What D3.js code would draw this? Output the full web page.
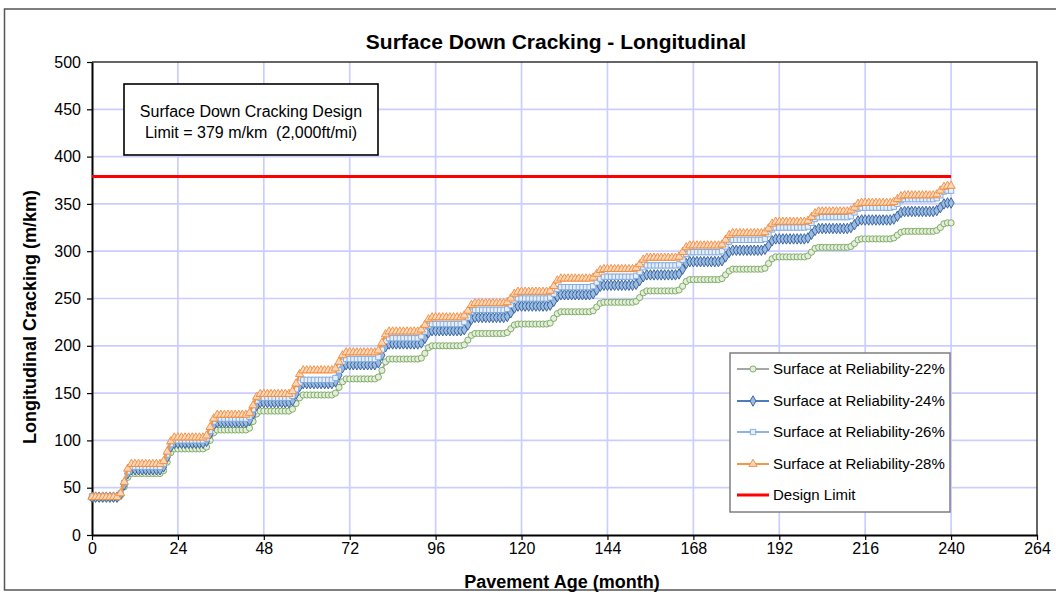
<!DOCTYPE html>
<html>
<head>
<meta charset="utf-8">
<script src="https://cdn.jsdelivr.net/npm/d3@7"></script>
<style>
  body { margin: 0; background: #fff; }
  svg { display: block; }
  text { font-family: "Liberation Sans", Arial, sans-serif; fill: #000; white-space: pre; }
</style>
</head>
<body>
<svg id="chart" width="1056" height="595"></svg>
<script>
// Pavement age in months (monthly output, 0..240)
const months = d3.range(0, 241);

// Longitudinal cracking (m/km), one row per year of service, plus the final month
const rel22 = [
  39,39,39,39,39,39,39,39,42,51,61,65,
  65,65,65,65,65,65,65,65,68,77,87,91,
  91,91,91,91,91,91,91,91,93,100,108,111,
  111,111,111,111,111,111,111,111,113,120,128,131,
  131,131,131,131,131,131,131,131,133,139,145,148,
  148,148,148,148,148,148,148,148,150,156,162,165,
  165,165,165,165,165,165,165,165,167,174,183,186,
  186,186,186,186,186,186,186,186,187,192,198,200,
  200,200,200,200,200,200,200,200,201,206,211,213,
  213,213,213,213,213,213,213,213,214,218,222,223,
  223,223,223,223,223,223,223,223,224,229,234,236,
  236,236,236,236,236,236,236,236,237,241,245,246,
  246,246,246,246,246,246,246,246,247,251,256,258,
  258,258,258,258,258,258,258,258,259,263,268,270,
  270,270,270,270,270,270,270,270,271,275,279,281,
  281,281,281,281,281,281,281,281,282,287,292,294,
  294,294,294,294,294,294,294,294,295,299,303,304,
  304,304,304,304,304,304,304,304,305,308,312,313,
  313,313,313,313,313,313,313,313,314,317,320,321,
  321,321,321,321,321,321,321,321,322,325,329,330,
  330
];
const rel24 = [
  40,40,40,40,40,40,40,40,43,53,65,69,
  69,69,69,69,69,69,69,69,72,82,93,97,
  97,97,97,97,97,97,97,97,99,107,116,119,
  119,119,119,119,119,119,119,119,121,128,137,140,
  140,140,140,140,140,140,140,140,142,149,157,160,
  160,160,160,160,160,160,160,160,162,169,177,180,
  180,180,180,180,180,180,180,180,182,190,199,202,
  202,202,202,202,202,202,202,202,203,208,214,216,
  216,216,216,216,216,216,216,216,217,222,228,230,
  230,230,230,230,230,230,230,230,231,235,240,242,
  242,242,242,242,242,242,242,242,243,247,252,254,
  254,254,254,254,254,254,254,254,255,259,263,264,
  264,264,264,264,264,264,264,264,265,269,273,275,
  275,275,275,275,275,275,275,275,276,281,287,289,
  289,289,289,289,289,289,289,289,290,294,299,301,
  301,301,301,301,301,301,301,301,302,306,311,313,
  313,313,313,313,313,313,313,313,314,318,322,324,
  324,324,324,324,324,324,324,324,325,328,332,333,
  333,333,333,333,333,333,333,333,334,337,341,342,
  342,342,342,342,342,342,342,342,343,346,350,351,
  351
];
const rel26 = [
  41,41,41,41,41,41,41,41,44,55,67,72,
  72,72,72,72,72,72,72,72,75,85,96,100,
  100,100,100,100,100,100,100,100,102,110,120,123,
  123,123,123,123,123,123,123,123,125,133,142,145,
  145,145,145,145,145,145,145,145,147,154,161,164,
  164,164,164,164,164,164,164,164,166,174,183,186,
  186,186,186,186,186,186,186,186,188,196,205,208,
  208,208,208,208,208,208,208,208,210,215,221,223,
  223,223,223,223,223,223,223,223,225,230,236,238,
  238,238,238,238,238,238,238,238,239,243,248,250,
  250,250,250,250,250,250,250,250,251,255,260,262,
  262,262,262,262,262,262,262,262,263,267,271,273,
  273,273,273,273,273,273,273,273,274,278,283,285,
  285,285,285,285,285,285,285,285,286,291,297,299,
  299,299,299,299,299,299,299,299,300,305,310,312,
  312,312,312,312,312,312,312,312,313,318,323,325,
  325,325,325,325,325,325,325,325,326,330,334,336,
  336,336,336,336,336,336,336,336,337,341,345,346,
  346,346,346,346,346,346,346,346,347,350,354,355,
  355,355,355,355,355,355,355,355,356,359,363,364,
  364
];
const rel28 = [
  40,40,40,40,40,40,40,40,44,56,70,75,
  75,75,75,75,75,75,75,75,78,88,99,103,
  103,103,103,103,103,103,103,103,105,114,123,127,
  127,127,127,127,127,127,127,127,129,137,146,149,
  149,149,149,149,149,149,149,149,152,160,170,174,
  174,174,174,174,174,174,174,174,176,183,190,193,
  193,193,193,193,193,193,193,193,195,203,212,215,
  215,215,215,215,215,215,215,215,217,222,228,230,
  230,230,230,230,230,230,230,230,232,237,243,245,
  245,245,245,245,245,245,245,245,246,250,255,257,
  257,257,257,257,257,257,257,257,258,263,269,271,
  271,271,271,271,271,271,271,271,272,276,280,281,
  281,281,281,281,281,281,281,281,282,286,291,293,
  293,293,293,293,293,293,293,293,294,299,304,306,
  306,306,306,306,306,306,306,306,307,312,317,319,
  319,319,319,319,319,319,319,319,320,324,329,331,
  331,331,331,331,331,331,331,331,332,336,340,342,
  342,342,342,342,342,342,342,342,343,346,350,351,
  351,351,351,351,351,351,351,351,352,355,358,359,
  359,359,359,359,359,359,359,359,360,364,368,369,
  369
];

const designLimit = 379;
const limitSpan = [0, 240];

const xTicks = [0, 24, 48, 72, 96, 120, 144, 168, 192, 216, 240, 264];
const yTicks = [0, 50, 100, 150, 200, 250, 300, 350, 400, 450, 500];

const seriesNames = [
  "Surface at Reliability-22%",
  "Surface at Reliability-24%",
  "Surface at Reliability-26%",
  "Surface at Reliability-28%"
];
const limitName = "Design Limit";
const noteLines = ["Surface Down Cracking Design", "Limit = 379 m/km  (2,000ft/mi)"];

const svg = d3.select("#chart");
const plot = { left: 92, right: 1037, top: 62, bottom: 535 };

const x = d3.scaleLinear().domain([0, 264]).range([plot.left, plot.right]);
const y = d3.scaleLinear().domain([0, 500]).range([plot.bottom, plot.top]);

// chart area frame
svg.append("rect")
  .attr("x", 4.5).attr("y", 9).attr("width", 1070).attr("height", 581)
  .attr("fill", "#fff").attr("stroke", "#555").attr("stroke-width", 1.5);

// title
svg.append("text")
  .attr("x", 556).attr("y", 49)
  .attr("text-anchor", "middle")
  .attr("font-size", 21).attr("font-weight", "bold")
  .text("Surface Down Cracking - Longitudinal");

// plot background
svg.append("rect")
  .attr("x", plot.left).attr("y", plot.top)
  .attr("width", plot.right - plot.left).attr("height", plot.bottom - plot.top)
  .attr("fill", "#fff");

// gridlines
const grid = svg.append("g").attr("stroke", "#cccdff").attr("stroke-width", 1.7);
grid.selectAll(".gx").data(xTicks.filter(d => d > 0 && d < 264)).join("line")
  .attr("x1", d => x(d)).attr("x2", d => x(d))
  .attr("y1", plot.top).attr("y2", plot.bottom);
grid.selectAll(".gy").data(yTicks.filter(d => d > 0 && d < 500)).join("line")
  .attr("x1", plot.left).attr("x2", plot.right)
  .attr("y1", d => y(d)).attr("y2", d => y(d));

// plot border (top and right)
svg.append("path")
  .attr("d", `M${plot.left},${plot.top}H${plot.right}V${plot.bottom}`)
  .attr("fill", "none").attr("stroke", "#333").attr("stroke-width", 1.5);

// axes
const xAxis = svg.append("g")
  .attr("transform", `translate(0,${plot.bottom})`)
  .call(d3.axisBottom(x).tickValues(xTicks).tickSize(5).tickSizeOuter(0).tickPadding(3));
const yAxis = svg.append("g")
  .attr("transform", `translate(${plot.left},0)`)
  .call(d3.axisLeft(y).tickValues(yTicks).tickSize(5).tickSizeOuter(0).tickPadding(6));
[xAxis, yAxis].forEach(a => {
  a.select(".domain").attr("stroke", "#000").attr("stroke-width", 2);
  a.selectAll(".tick line").attr("stroke", "#000").attr("stroke-width", 1.2);
  a.selectAll(".tick text")
    .attr("font-family", "Liberation Sans, Arial, sans-serif")
    .attr("font-size", 16).attr("fill", "#000");
});

// axis titles
svg.append("text")
  .attr("x", 562).attr("y", 588)
  .attr("text-anchor", "middle")
  .attr("font-size", 18).attr("font-weight", "bold")
  .text("Pavement Age (month)");
svg.append("text")
  .attr("transform", "translate(36,317) rotate(-90)")
  .attr("text-anchor", "middle")
  .attr("font-size", 18).attr("font-weight", "bold")
  .text("Longitudinal Cracking (m/km)");

// series
const styles = [
  { values: rel22, line: "#a6a6a6", stroke: "#77a65a", fill: "#e4eedc", symbol: d3.symbolCircle, size: 30 },
  { values: rel24, line: "#4a7ebb", stroke: "#2f5c9a", fill: "#9bbbe0", symbol: d3.symbolDiamond, size: 32 },
  { values: rel26, line: "#8db4e2", stroke: "#7ba7dc", fill: "#e6eef9", symbol: d3.symbolSquare, size: 28 },
  { values: rel28, line: "#f79646", stroke: "#f28a3c", fill: "#fbd7b8", symbol: d3.symbolTriangle, size: 30 }
];

const line = d3.line().x((d, i) => x(months[i])).y(d => y(d));

styles.forEach(s => {
  const g = svg.append("g");
  g.append("path")
    .datum(s.values)
    .attr("d", line)
    .attr("fill", "none")
    .attr("stroke", s.line)
    .attr("stroke-width", 2.2);
  const sym = d3.symbol().type(s.symbol).size(s.size);
  g.selectAll("path.m").data(s.values).join("path")
    .attr("class", "m")
    .attr("d", sym)
    .attr("transform", (d, i) => `translate(${x(months[i])},${y(d)})`)
    .attr("fill", s.fill)
    .attr("stroke", s.stroke)
    .attr("stroke-width", 0.9);
});

// design limit
svg.append("line")
  .attr("x1", x(limitSpan[0])).attr("x2", x(limitSpan[1]))
  .attr("y1", y(designLimit)).attr("y2", y(designLimit))
  .attr("stroke", "#ff0000").attr("stroke-width", 3);

// note box
const note = svg.append("g");
note.append("rect")
  .attr("x", 124).attr("y", 84).attr("width", 254).attr("height", 71)
  .attr("fill", "#fff").attr("stroke", "#000").attr("stroke-width", 1.6);
note.selectAll("text").data(noteLines).join("text")
  .attr("x", 251).attr("y", (d, i) => 117 + i * 21)
  .attr("text-anchor", "middle")
  .attr("font-size", 16)
  .text(d => d);

// legend
const legend = svg.append("g");
legend.append("rect")
  .attr("x", 730).attr("y", 353).attr("width", 220).attr("height", 159)
  .attr("fill", "#fff").attr("stroke", "#7f7f7f").attr("stroke-width", 1.5);
const legendRows = [369, 401, 432, 464];
styles.forEach((s, i) => {
  const ly = legendRows[i];
  legend.append("line")
    .attr("x1", 737).attr("x2", 769).attr("y1", ly).attr("y2", ly)
    .attr("stroke", s.line).attr("stroke-width", 2);
  legend.append("path")
    .attr("d", d3.symbol().type(s.symbol).size(s.size)())
    .attr("transform", `translate(753,${ly})`)
    .attr("fill", s.fill).attr("stroke", s.stroke).attr("stroke-width", 0.9);
  legend.append("text")
    .attr("x", 773).attr("y", ly + 5)
    .attr("font-size", 15)
    .text(seriesNames[i]);
});
legend.append("line")
  .attr("x1", 737).attr("x2", 769).attr("y1", 495).attr("y2", 495)
  .attr("stroke", "#ff0000").attr("stroke-width", 3);
legend.append("text")
  .attr("x", 773).attr("y", 500)
  .attr("font-size", 15)
  .text(limitName);
</script>
</body>
</html>
